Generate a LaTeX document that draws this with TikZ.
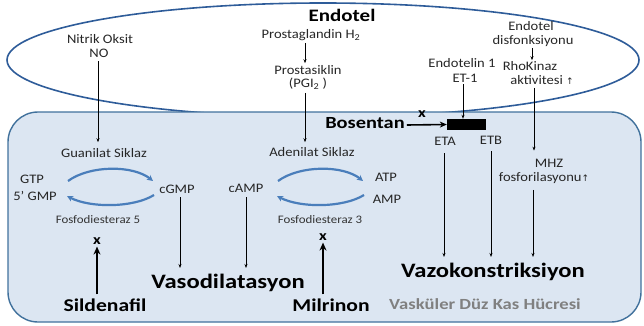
\documentclass[tikz,border=0pt]{standalone}
\usepackage{fontspec}
\setmainfont{Carlito}[FakeStretch=1.12, BoldFeatures={FakeStretch=1.2}]
\newfontfamily\symfont{DejaVu Sans}
\usetikzlibrary{arrows.meta}
\definecolor{ellc}{HTML}{2E5C99}
\definecolor{cellfill}{HTML}{DCE6F2}
\definecolor{cellline}{HTML}{41719C}
\definecolor{cyc}{HTML}{4A7EBB}
\definecolor{graytx}{HTML}{808080}
\newcommand\uparr{\raisebox{0.05ex}{\symfont\fontsize{9}{10}\selectfont↑}}
\tikzset{
  lbl/.style={inner sep=0pt, font=\fontsize{13}{15}\selectfont, text=black!85},
  small/.style={inner sep=0pt, font=\fontsize{11.5}{13}\selectfont, text=black!80},
  big/.style={inner sep=0pt, font=\fontsize{20.5}{23}\selectfont\bfseries},
  drug/.style={inner sep=0pt, font=\fontsize{18}{20}\selectfont\bfseries},
  xmark/.style={inner sep=0pt, font=\fontsize{14}{16}\selectfont\bfseries},
  thin/.style={-{Stealth[length=4pt,width=3pt]}, line width=0.8pt},
  thick/.style={-{Stealth[length=8pt,width=7pt]}, line width=2.6pt},
  cycarr/.style={cyc, line width=2.2pt, -{Stealth[length=6pt,width=6pt]}},
  cycarrL/.style={cyc, line width=2.2pt, {Stealth[length=6pt,width=6pt]}-}
}
\begin{document}
\begin{tikzpicture}[x=1pt,y=-1pt]
\useasboundingbox (0,0) rectangle (644,326);
% endothelium ellipse
\draw[ellc, line width=1.6pt] (323,60) ellipse [x radius=316, y radius=57];
% smooth muscle cell
\draw[cellline, line width=1.4pt, fill=cellfill, rounded corners=30pt] (8,112) rectangle (641,322);

\node[inner sep=0pt, font=\fontsize{17.5}{20}\selectfont\bfseries] (endotel) at (342,15) {Endotel};

% ---------- left column
\node[lbl] (no1) at (100,39) {Nitrik Oksit};
\node[lbl] (no) at (99,53) {NO};
\node[lbl] (gs) at (104,153) {Guanilat Siklaz};
\draw[thin] ([yshift=-4pt]no.south -| 98,0) -- ([yshift=6pt]gs.north -| 98,0);
\node[lbl] (gtp) at (32,179) {GTP};
\node[lbl] (gmp) at (35,196) {5’ GMP};
\node[lbl] (cgmp) at (177,189) {cGMP};
\node[small] (pde5) at (98,220) {Fosfodiesteraz 5};
\node[xmark] (x5) at (97,241) {x};
\node[drug] (sil) at (105,305) {Sildenafil};
\draw[thick] ([yshift=4pt]sil.north -| 97,0) -- ([yshift=-2pt]x5.south);

% cycle left
\draw[cycarr] (68,181) .. controls (90,165) and (133,165) .. (153,181);
\draw[cycarrL] (67,196) .. controls (90,208) and (133,208) .. (154,195);

% ---------- middle column
\node[lbl] (pgh) at (311,35) {Prostaglandin H\textsubscript{2}};
\node[lbl] (pgs) at (308,70) {Prostasiklin};
\node[lbl] (pgi) at (308,84) {(PGI\textsubscript{2} )};
\draw[thin] ([yshift=-2pt]pgh.south -| 305,0) -- ([yshift=2pt]pgs.north -| 305,0);
\node[lbl] (as) at (312,152) {Adenilat Siklaz};
\draw[thin] ([yshift=-3pt]pgi.south -| 305,0) -- ([yshift=5pt]as.north -| 305,0);
\node[lbl] (camp) at (246,188) {cAMP};
\node[lbl] (atp) at (386,177) {ATP};
\node[lbl] (amp) at (387,199) {AMP};
\node[small] (pde3) at (320,220) {Fosfodiesteraz 3};
\node[xmark] (x3) at (323,237) {x};
\node[drug] (mil) at (331,305) {Milrinon};
\draw[thick] ([yshift=4pt]mil.north -| 323,0) -- ([yshift=-2pt]x3.south);

% cycle right
\draw[cycarr] (278,181) .. controls (300,165) and (343,165) .. (363,181);
\draw[cycarrL] (277,196) .. controls (300,208) and (343,208) .. (364,195);

\node[big] (vd) at (228,283) {Vasodilatasyon};
\draw[thin] ([yshift=-4pt]cgmp.south -| 180,0) -- ([yshift=6pt]vd.north -| 180,0);
\draw[thin] ([yshift=-5pt]camp.south -| 246,0) -- ([yshift=6pt]vd.north -| 246,0);

% ---------- right column
\node[lbl] (et1a) at (462,63) {Endotelin 1};
\node[lbl] (et1) at (465,78) {ET-1};
\node[fill=black, minimum width=39pt, minimum height=11pt, inner sep=0pt] (rec) at (466.5,124.5) {};
\draw[thin] ([yshift=-2pt]et1.south -| 463,0) -- (rec.north -| 463,0);
\node[inner sep=0pt, font=\fontsize{17}{19}\selectfont\bfseries] (bos) at (365,123) {Bosentan};
\draw[-{Stealth[length=7pt,width=6pt]}, line width=1.6pt] ([xshift=2pt,yshift=-2pt]bos.east) -- (rec.west);
\node[xmark] (xb) at (422,114) {x};
\node[lbl] (eta) at (445,141) {ETA};
\node[lbl] (etb) at (491,140) {ETB};

\node[lbl] (ed1) at (531,26) {Endotel};
\node[lbl] (ed2) at (533,41) {disfonksiyonu};
\node[lbl] (rho1) at (530,66) {RhoKinaz};
\node[lbl] (rho2) at (542,80) {aktivitesi \uparr};
\draw[thin] ([yshift=-1pt]ed2.south -| 532,0) -- ([yshift=1pt]rho1.north -| 532,0);
\node[lbl] (mhz1) at (549,163) {MHZ};
\node[lbl] (mhz2) at (544,178) {fosforilasyonu\uparr};
\draw[thin] ([yshift=-3pt]rho2.south -| 534,0) -- ([yshift=8pt]mhz1.north -| 534,0);

\node[big] (vk) at (493,272) {Vazokonstriksiyon};
\draw[thin] ([yshift=-8pt]eta.south -| 444,0) -- ([yshift=6pt]vk.north -| 444,0);
\draw[thin] ([yshift=-7pt]etb.south -| 491,0) -- ([yshift=6pt]vk.north -| 491,0);
\draw[thin] ([yshift=-6pt]mhz2.south -| 533,0) -- ([yshift=6pt]vk.north -| 533,0);

\node[inner sep=0pt, font=\fontsize{15.5}{17}\selectfont\bfseries, text=graytx] (vdk) at (485,304) {Vasküler Düz Kas Hücresi};
\end{tikzpicture}
\end{document}
